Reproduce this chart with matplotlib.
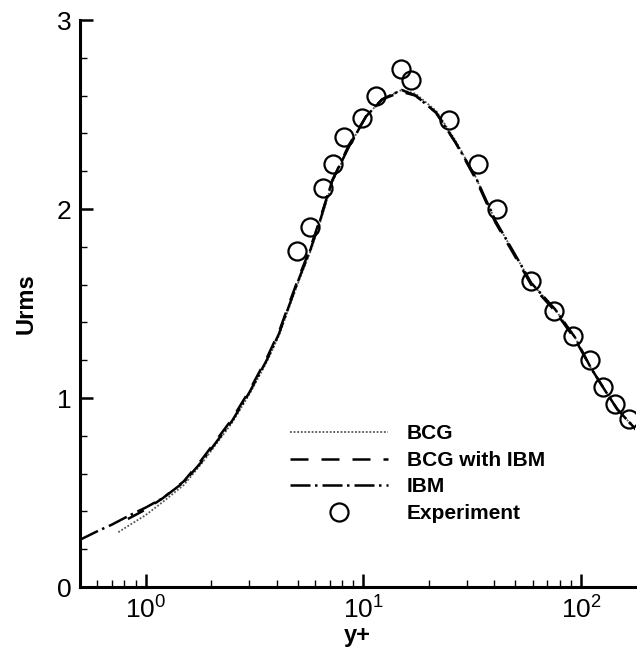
import matplotlib
matplotlib.use("Agg")
import matplotlib.pyplot as plt
from matplotlib.ticker import MultipleLocator, LogLocator, NullFormatter

plt.rcParams['font.family'] = ['Liberation Sans', 'DejaVu Sans']

# Urms profiles vs y+
bcg_y = [0.75, 0.85, 1.0, 1.2, 1.5, 1.8, 2.0, 2.5, 3.0, 3.6, 4.1, 4.6, 5.1, 5.7, 6.3,
         7.2, 8.6, 10.3, 12.2, 15.0, 17.4, 21.6, 26.6, 32.8, 40.4, 51.5, 59, 76, 94,
         111, 129, 147, 180]
bcg_u = [0.29, 0.33, 0.38, 0.45, 0.54, 0.65, 0.72, 0.87, 1.02, 1.19, 1.33, 1.49, 1.63,
         1.77, 1.92, 2.14, 2.33, 2.49, 2.58, 2.63, 2.61, 2.52, 2.36, 2.17, 1.94, 1.73,
         1.61, 1.47, 1.32, 1.16, 1.04, 0.94, 0.83]

bcgibm_y = [0.83, 1.0, 1.2, 1.5, 1.8, 2.0, 2.5, 3.0, 3.6, 4.1, 4.6, 5.1, 5.7, 6.3,
            7.2, 8.6, 10.3, 12.2, 15.0, 17.4, 21.6, 26.6, 32.8, 40.4, 51.5, 59, 76, 94,
            111, 129, 147, 180]
bcgibm_u = [0.36, 0.41, 0.47, 0.56, 0.67, 0.74, 0.89, 1.04, 1.21, 1.35, 1.51, 1.65,
            1.79, 1.94, 2.15, 2.34, 2.49, 2.58, 2.62, 2.60, 2.51, 2.35, 2.16, 1.93, 1.72,
            1.60, 1.46, 1.31, 1.16, 1.04, 0.94, 0.83]

ibm_y = [0.5, 0.6, 0.7, 0.8, 0.9, 1.0, 1.2, 1.5, 1.8, 2.0, 2.5, 3.0, 3.6, 4.1, 4.6,
         5.1, 5.7, 6.3, 7.2, 8.6, 10.3, 12.2, 15.0, 17.4, 21.6, 26.6, 32.8, 40.4,
         51.5, 59, 76, 94, 111, 129, 147, 180]
ibm_u = [0.25, 0.295, 0.33, 0.365, 0.395, 0.42, 0.47, 0.555, 0.66, 0.73, 0.88, 1.03,
         1.20, 1.34, 1.50, 1.64, 1.78, 1.93, 2.15, 2.33, 2.49, 2.58, 2.63, 2.60, 2.51,
         2.35, 2.17, 1.94, 1.73, 1.61, 1.47, 1.32, 1.16, 1.04, 0.94, 0.83]

exp_y = [4.94, 5.67, 6.56, 7.3, 8.19, 9.9, 11.5, 14.9, 16.6, 24.7, 33.5, 41.3, 59.2,
         75.3, 91.9, 110, 126, 143, 167]
exp_u = [1.78, 1.905, 2.11, 2.24, 2.38, 2.48, 2.60, 2.74, 2.68, 2.47, 2.24, 2.00, 1.62,
         1.46, 1.33, 1.20, 1.06, 0.97, 0.89]

fig = plt.figure(figsize=(6.37, 6.54), dpi=100)
ax = fig.add_axes([0.1256, 0.1024, 0.872, 0.867])

ax.plot(bcg_y, bcg_u, color='#555555', lw=1.3, ls=(0, (1, 1)), label='BCG')
ax.plot(bcgibm_y, bcgibm_u, color='black', lw=1.8, ls=(0, (7.2, 5.2)), label='BCG with IBM')
ax.plot(ibm_y, ibm_u, color='black', lw=1.8, ls=(0, (8, 1.8, 1.0, 2.0)), label='IBM')
ax.plot(exp_y, exp_u, ls='none', marker='o', ms=13, mfc='none', mec='black', mew=1.6,
        label='Experiment')

ax.set_xscale('log')
ax.set_xlim(0.5, 178)
ax.set_ylim(0, 3)
ax.yaxis.set_major_locator(MultipleLocator(1))
ax.yaxis.set_minor_locator(MultipleLocator(0.2))
ax.xaxis.set_major_locator(LogLocator(base=10))
ax.xaxis.set_minor_locator(LogLocator(base=10, subs=range(2, 10)))
ax.xaxis.set_minor_formatter(NullFormatter())

for s in ['top', 'right']:
    ax.spines[s].set_visible(False)
for s in ['left', 'bottom']:
    ax.spines[s].set_linewidth(2.2)

ax.tick_params(which='major', direction='in', length=9.5, width=1.8, labelsize=19)
ax.tick_params(axis='x', which='major', pad=7)
ax.tick_params(axis='y', which='major', pad=6)
ax.tick_params(which='minor', direction='in', length=5, width=1.0)

ax.set_xlabel('y+', fontsize=17, fontweight='bold', labelpad=0)
ax.set_ylabel('Urms', fontsize=17, fontweight='bold', labelpad=14)

leg = ax.legend(loc='upper left', bbox_to_anchor=(0.345, 0.32), frameon=False,
                handlelength=4.7, handletextpad=0.9, labelspacing=0.36,
                prop={'size': 15, 'weight': 'bold'})

fig.savefig('out.png', dpi=100)
